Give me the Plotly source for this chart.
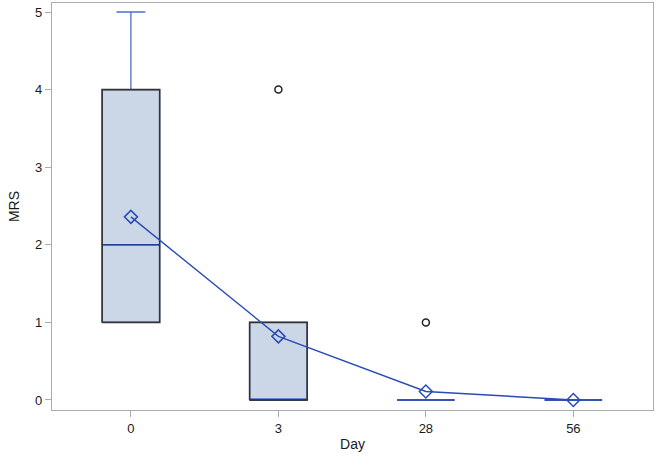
import plotly.graph_objects as go

days = ["0", "3", "28", "56"]
q1 = [1, 0, 0, 0]
median = [2, 0, 0, 0]
q3 = [4, 1, 0, 0]
lower = [1, 0, 0, 0]
upper = [5, 1, 0, 0]
means = [2.36, 0.82, 0.11, 0.0]
out_day = [1, 2]
out_val = [4, 1]

pos = list(range(len(days)))
BW = 0.39
BLUE = "#2a4bb5"
WHISK = "#4a6fcf"
FILL = "#cbd6e6"

fig = go.Figure()
fig.add_trace(go.Box(x=pos, q1=q1, median=median, q3=q3, lowerfence=lower,
                     upperfence=upper, width=BW, whiskerwidth=0.5,
                     fillcolor=FILL, line=dict(color=WHISK, width=1.3),
                     boxpoints=False, showlegend=False, hoverinfo="skip"))
# medians
mx, my = [], []
for i in pos:
    mx += [i - BW / 2, i + BW / 2, None]
    my += [median[i], median[i], None]
fig.add_trace(go.Scatter(x=mx, y=my, mode="lines", line=dict(color="#1f3f9e", width=1.6),
                         showlegend=False, hoverinfo="skip"))
# black outlines of the boxes (only where the box has height)
ox, oy = [], []
for i in pos:
    if q3[i] > q1[i]:
        a, b = i - BW / 2, i + BW / 2
        ox += [a, b, b, a, a, None]
        oy += [q1[i], q1[i], q3[i], q3[i], q1[i], None]
fig.add_trace(go.Scatter(x=ox, y=oy, mode="lines", line=dict(color="#333333", width=1.6),
                         showlegend=False, hoverinfo="skip"))
# means
fig.add_trace(go.Scatter(x=pos, y=means, mode="lines+markers",
                         line=dict(color=BLUE, width=1.4),
                         marker=dict(symbol="diamond-open", size=10, color=BLUE,
                                     line=dict(width=1.5, color=BLUE)),
                         showlegend=False))
# outliers
fig.add_trace(go.Scatter(x=out_day, y=out_val, mode="markers",
                         marker=dict(symbol="circle-open", size=7, color="#222222",
                                     line=dict(width=1.5, color="#222222")),
                         showlegend=False))

fig.update_layout(
    width=660, height=462, margin=dict(l=52, r=7, t=3, b=52),
    plot_bgcolor="white", paper_bgcolor="white",
    font=dict(family="Liberation Sans, Arial", size=13, color="#1a1a1a"),
)
fig.update_xaxes(range=[-0.535, 3.54], tickmode="array", tickvals=pos, ticktext=days,
                 showgrid=False, zeroline=False, showline=True, mirror=True,
                 linecolor="#acacac", linewidth=1.3, ticks="outside", ticklen=6,
                 tickcolor="#acacac", tickfont=dict(size=13),
                 title=dict(text="Day", standoff=4, font=dict(size=14)))
fig.update_yaxes(range=[-0.129, 5.116], tickvals=[0, 1, 2, 3, 4, 5],
                 showgrid=False, zeroline=False, showline=True, mirror=True,
                 linecolor="#acacac", linewidth=1.3, ticks="outside", ticklen=6,
                 tickcolor="#acacac", tickfont=dict(size=13),
                 title=dict(text="MRS", standoff=12, font=dict(size=14)))

fig.write_html("out.html", config={"displayModeBar": False},
               post_script="document.body.style.margin='0';")
